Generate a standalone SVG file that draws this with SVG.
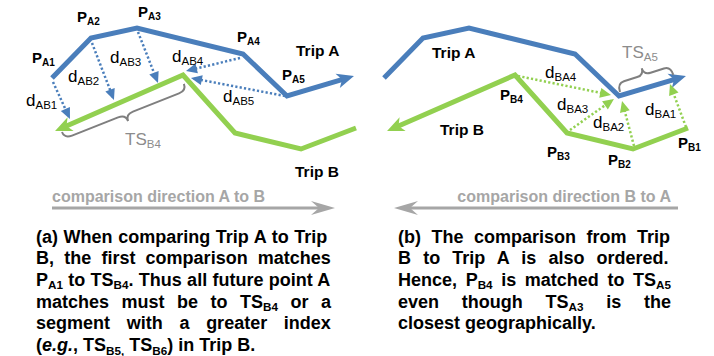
<svg xmlns="http://www.w3.org/2000/svg" width="714" height="356" viewBox="0 0 714 356">
<style>
text{font-family:"Liberation Sans",Arial,sans-serif}
.trip{fill:none;stroke-width:5;stroke-linejoin:miter;stroke-linecap:butt}
.blue{stroke:#4a7ebb}
.green{stroke:#92d050}
.dotb{fill:none;stroke:#4a7ebb;stroke-width:2.5;stroke-dasharray:2.2 2.2}
.dotg{fill:none;stroke:#92d050;stroke-width:2.5;stroke-dasharray:2.2 2.2}
.brace{fill:none;stroke:#7f7f7f;stroke-width:2}
.dir{fill:none;stroke:#a6a6a6;stroke-width:3}
.pl{font-size:15px;font-weight:bold;fill:#000}
.pl .s{font-size:10px}
.tl{font-size:15.5px;font-weight:bold;fill:#000}
.dl{font-size:17px;fill:#000}
.dl .s{font-size:11.5px}
.ts{font-size:17px;fill:#8c8c8c}
.ts .s{font-size:11.5px}
.dt{font-size:16px;font-weight:bold;fill:#a6a6a6}
.cap{font-size:18px;font-weight:bold;fill:#000}
.cap .s{font-size:11.7px}
</style>
<defs>
<marker id="mBlue" markerUnits="userSpaceOnUse" viewBox="-8 -9 20 18" markerWidth="20" markerHeight="18" refX="0" refY="0" orient="auto"><path d="M10,0 L-7,-7.5 L-2.5,0 L-7,7.5 Z" fill="#4a7ebb"/></marker>
<marker id="mGreen" markerUnits="userSpaceOnUse" viewBox="-8 -9 20 18" markerWidth="20" markerHeight="18" refX="0" refY="0" orient="auto"><path d="M10,0 L-7,-7.5 L-2.5,0 L-7,7.5 Z" fill="#92d050"/></marker>
<marker id="dBlue" markerUnits="userSpaceOnUse" viewBox="-9 -6 13 12" markerWidth="13" markerHeight="12" refX="0" refY="0" orient="auto"><path d="M3,0 L-8,-5 L-8,5 Z" fill="#4a7ebb"/></marker>
<marker id="dGreen" markerUnits="userSpaceOnUse" viewBox="-9 -6 13 12" markerWidth="13" markerHeight="12" refX="0" refY="0" orient="auto"><path d="M3,0 L-8,-5 L-8,5 Z" fill="#92d050"/></marker>
<marker id="mGrey" markerUnits="userSpaceOnUse" viewBox="-16 -8 28 16" markerWidth="28" markerHeight="16" refX="0" refY="0" orient="auto"><path d="M10,0 L-14,-7 L-6,0 L-14,7 Z" fill="#a6a6a6"/></marker>
</defs>

<!-- Panel (a) -->
<g id="tripA-a"><path class="trip blue" d="M52,78 L91,38 L137,28 L243,54 L287,96 L344.4,78.9" marker-end="url(#mBlue)"/></g>
<g id="tripB-a"><path class="trip green" d="M356,128 L301,149 L235,133 L183,75 L64.2,127" marker-end="url(#mGreen)"/></g>

<g id="connectors-a">
<path class="dotb" d="M53,82 L68.7,116.3" marker-end="url(#dBlue)"/>
<path class="dotb" d="M92,43 L112.9,97.2" marker-end="url(#dBlue)"/>
<path class="dotb" d="M138,32 L156.9,80.2" marker-end="url(#dBlue)"/>
<path class="dotb" d="M240,58 L188.9,70.3" marker-end="url(#dBlue)"/>
<path class="dotb" d="M285,96 L193.9,78.6" marker-end="url(#dBlue)"/>
</g>

<g id="brace-TSB4"><path class="brace" transform="translate(62,132) rotate(-21.5)" d="M0,0 Q0,7 8,7 L57.5,7 Q65.5,7 65.5,14 Q65.5,7 73.5,7 L123,7 Q131,7 131,0"/>
<text class="ts" x="125" y="145">TS<tspan class="s" dy="3">B4</tspan></text></g>

<g id="labels-a">
<text class="pl" x="32" y="63">P<tspan class="s" dy="3">A1</tspan></text>
<text class="pl" x="77" y="22">P<tspan class="s" dy="3">A2</tspan></text>
<text class="pl" x="138" y="17">P<tspan class="s" dy="3">A3</tspan></text>
<text class="pl" x="237" y="42">P<tspan class="s" dy="3">A4</tspan></text>
<text class="pl" x="282" y="80">P<tspan class="s" dy="3">A5</tspan></text>
<text class="tl" x="296" y="56">Trip A</text>
<text class="tl" x="295" y="177">Trip B</text>
<text class="dl" x="26" y="106">d<tspan class="s" dy="3">AB1</tspan></text>
<text class="dl" x="68" y="82">d<tspan class="s" dy="3">AB2</tspan></text>
<text class="dl" x="110" y="63">d<tspan class="s" dy="3">AB3</tspan></text>
<text class="dl" x="172" y="62">d<tspan class="s" dy="3">AB4</tspan></text>
<text class="dl" x="223" y="102">d<tspan class="s" dy="3">AB5</tspan></text>
</g>

<!-- Panel (b) -->
<g id="tripA-b"><path class="trip blue" d="M384,78 L423,38 L469,28 L575,54 L619,96 L676.4,78.9" marker-end="url(#mBlue)"/></g>
<g id="tripB-b"><path class="trip green" d="M688,128 L633,149 L567,133 L515,75 L396.2,127" marker-end="url(#mGreen)"/></g>

<g id="connectors-b">
<path class="dotg" d="M518,76 L608.1,94.4" marker-end="url(#dGreen)"/>
<path class="dotg" d="M570,130 L611.5,100.7" marker-end="url(#dGreen)"/>
<path class="dotg" d="M634,146 L622.8,103.9" marker-end="url(#dGreen)"/>
<path class="dotg" d="M686,127 L671,86.8" marker-end="url(#dGreen)"/>
</g>

<g id="brace-TSA5"><path class="brace" transform="translate(620,92) rotate(-17.8)" d="M0,0 Q0,-9 7,-9 L21,-9 Q28,-9 28,-16 Q28,-9 35,-9 L49,-9 Q56,-9 56,0"/>
<text class="ts" x="622" y="58">TS<tspan class="s" dy="3">A5</tspan></text></g>

<g id="labels-b">
<text class="tl" x="432" y="58">Trip A</text>
<text class="tl" x="440" y="135">Trip B</text>
<text class="pl" x="500" y="100">P<tspan class="s" dy="3">B4</tspan></text>
<text class="pl" x="547" y="157">P<tspan class="s" dy="3">B3</tspan></text>
<text class="pl" x="608" y="165">P<tspan class="s" dy="3">B2</tspan></text>
<text class="pl" x="678" y="148">P<tspan class="s" dy="3">B1</tspan></text>
<text class="dl" x="545" y="78">d<tspan class="s" dy="3">BA4</tspan></text>
<text class="dl" x="557" y="110">d<tspan class="s" dy="3">BA3</tspan></text>
<text class="dl" x="593" y="128">d<tspan class="s" dy="3">BA2</tspan></text>
<text class="dl" x="645" y="115">d<tspan class="s" dy="3">BA1</tspan></text>
</g>

<!-- Direction arrows -->
<g id="dir-a"><path class="dir" d="M52,208 L325,208" marker-end="url(#mGrey)"/>
<text class="dt" x="52" y="202">comparison direction A to B</text></g>
<g id="dir-b"><path class="dir" d="M678,208 L404,208" marker-end="url(#mGrey)"/>
<text class="dt" x="671" y="202" text-anchor="end">comparison direction B to A</text></g>

<!-- Captions -->
<g id="caption-a" class="cap">
<text class="cap" x="36" y="242.5" style="word-spacing:0.6px">(a) When comparing Trip A to Trip</text>
<text class="cap" x="36" y="264.2" style="word-spacing:5.2px">B, the first comparison matches</text>
<text class="cap" x="36" y="285.9" style="word-spacing:0.3px">P<tspan class="s" dy="3.5">A1</tspan><tspan dy="-3.5"> to TS</tspan><tspan class="s" dy="3.5">B4</tspan><tspan dy="-3.5">. Thus all future point A</tspan></text>
<text class="cap" x="36" y="307.6" style="word-spacing:7.5px">matches must be to TS<tspan class="s" dy="3.5">B4</tspan><tspan dy="-3.5"> or a</tspan></text>
<text class="cap" x="36" y="329.3" style="word-spacing:11.7px">segment with a greater index</text>
<text class="cap" x="36" y="351">(<tspan font-style="italic">e.g.</tspan>, TS<tspan class="s" dy="3.5">B5,</tspan><tspan dy="-3.5"> TS</tspan><tspan class="s" dy="3.5">B6</tspan><tspan dy="-3.5">) in Trip B.</tspan></text>
</g>
<g id="caption-b" class="cap">
<text class="cap" x="398" y="242.5" style="word-spacing:5.5px">(b) The comparison from Trip</text>
<text class="cap" x="398" y="264.2" style="word-spacing:7.15px">B to Trip A is also ordered.</text>
<text class="cap" x="398" y="285.9" style="word-spacing:3.6px">Hence, P<tspan class="s" dy="3.5">B4</tspan><tspan dy="-3.5"> is matched to TS</tspan><tspan class="s" dy="3.5">A5</tspan></text>
<text class="cap" x="398" y="307.6" style="word-spacing:17.75px">even though TS<tspan class="s" dy="3.5">A3</tspan><tspan dy="-3.5"> is the</tspan></text>
<text class="cap" x="398" y="329.3">closest geographically.</text>
</g>
</svg>
